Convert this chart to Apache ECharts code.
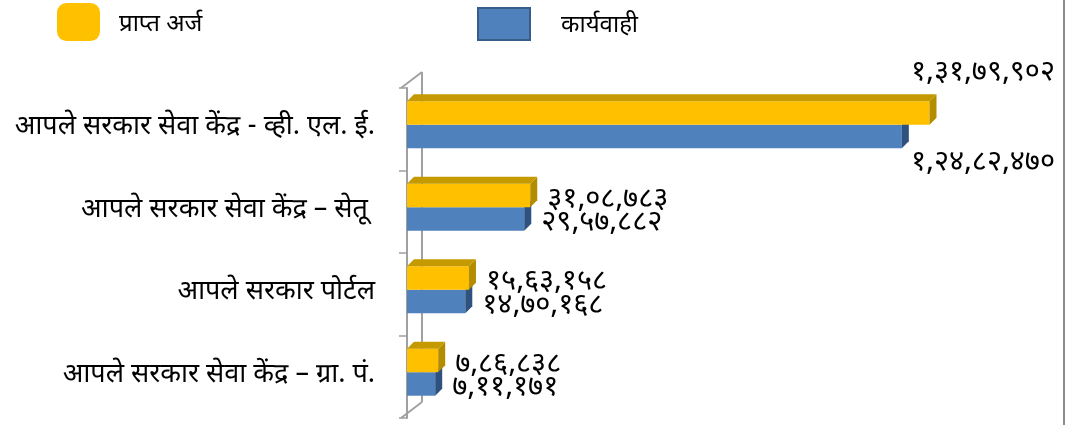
<!DOCTYPE html>
<html>
<head>
<meta charset="utf-8">
<script src="https://cdn.jsdelivr.net/npm/echarts@6/dist/echarts.min.js"></script>
<style>
  html, body { margin: 0; padding: 0; background: #fff; }
  #chart { width: 1075px; height: 425px; }
</style>
</head>
<body>
<div id="chart"></div>
<script>
const categories = [
  "आपले सरकार सेवा केंद्र - व्ही. एल. ई.",
  "आपले सरकार सेवा केंद्र – सेतू ",
  "आपले सरकार पोर्टल",
  "आपले सरकार सेवा केंद्र – ग्रा. पं.",
];
const receivedValues = [13179902, 3108783, 1563158, 786838];
const processedValues = [12482470, 2957882, 1470168, 711171];
const seriesNames = ["प्राप्त अर्ज", "कार्यवाही"];

const FONT = "'Noto Sans Devanagari', 'Lohit Devanagari', 'Noto Sans', 'DejaVu Sans', sans-serif";
const DEVA = "०१२३४५६७८९";

// indian grouping (1,31,79,902) with devanagari digits
const toDeva = (n) => {
  const s = String(n);
  let rest = s.slice(0, -3);
  let out = s.slice(-3);
  while (rest.length > 0) {
    out = rest.slice(-2) + "," + out;
    rest = rest.slice(0, -2);
  }
  return out.replace(/[0-9]/g, (d) => DEVA[+d]);
};

const DX = 7, DY = 7;
const LABEL_SIZE = 29;

const makeRender = (upper, colors) => (params, api) => {
  const cat = api.value(1);
  const val = api.value(0);
  const p0 = api.coord([0, cat]);
  const p1 = api.coord([val, cat]);
  const band = api.size([0, 1])[1];
  const h = band * 0.285;
  const mid = p0[1] - band * 0.055;
  const y0 = upper ? mid - h : mid;
  const x0 = p0[0], x1 = p1[0];
  const children = [
    { type: "rect", shape: { x: x0, y: y0, width: x1 - x0, height: h }, style: { fill: colors.front } },
    {
      type: "polygon",
      shape: { points: [[x1, y0], [x1, y0 + h], [x1 + DX, y0 + h - DY], [x1 + DX, y0 - DY]] },
      style: { fill: colors.side },
    },
  ];
  if (upper) {
    children.push({
      type: "polygon",
      shape: { points: [[x0, y0], [x1, y0], [x1 + DX, y0 - DY], [x0 + DX, y0 - DY]] },
      style: { fill: colors.top },
    });
  }
  // value label: right of the bar, or pushed above/below when it would run off the chart
  const text = toDeva(val);
  const limit = api.getWidth() - 20;
  const labelX = x1 + DX + 10;
  const estW = text.length * LABEL_SIZE * 0.5;
  const style = { text, fontSize: LABEL_SIZE, fontFamily: FONT, fill: "#000", verticalAlign: "middle" };
  if (labelX + estW > limit) {
    Object.assign(style, { x: limit, y: upper ? y0 - DY - 20 : y0 + h + 16, align: "right" });
  } else {
    Object.assign(style, { x: labelX, y: y0 + h / 2 + 6, align: "left" });
  }
  children.push({ type: "text", style });
  return { type: "group", children };
};

const chart = echarts.init(document.getElementById("chart"));
chart.setOption({
  animation: false,
  backgroundColor: "#fff",
  textStyle: { fontFamily: FONT },
  legend: [
    {
      data: [seriesNames[0]],
      left: 52, top: -2,
      itemWidth: 43, itemHeight: 38,
      icon: "roundRect",
      formatter: "{t|{name}}",
      textStyle: { rich: { t: { fontSize: 24, color: "#000", padding: [10, 0, 0, 14] } } },
    },
    {
      data: [seriesNames[1]],
      left: 472, top: 2,
      itemWidth: 52, itemHeight: 32,
      icon: "rect",
      formatter: "{t|{name}}",
      textStyle: { rich: { t: { fontSize: 24, color: "#000", padding: [8, 0, 0, 26] } } },
    },
  ],
  grid: { left: 407, right: 113, top: 88, bottom: 7 },
  xAxis: { type: "value", min: 0, max: 14000000, show: false },
  yAxis: {
    type: "category",
    data: categories,
    inverse: true,
    offset: 6,
    axisLine: { show: true, lineStyle: { color: "#A0A0A0", width: 2 } },
    axisTick: { show: true, length: 8, lineStyle: { color: "#A0A0A0", width: 1.5 } },
    axisLabel: { margin: 26, fontSize: 27, color: "#000", fontFamily: FONT, padding: [0, 0, 9, 0] },
    splitLine: { show: false },
  },
  graphic: [
    { type: "line", z: 0, shape: { x1: 422, y1: 72, x2: 422, y2: 402 }, style: { stroke: "#A0A0A0", lineWidth: 2 } },
    { type: "line", z: 0, shape: { x1: 401, y1: 88, x2: 422, y2: 72 }, style: { stroke: "#A0A0A0", lineWidth: 2 } },
    { type: "line", z: 0, shape: { x1: 401, y1: 418, x2: 422, y2: 402 }, style: { stroke: "#A0A0A0", lineWidth: 2 } },
    { type: "line", z: 0, shape: { x1: 1064, y1: 0, x2: 1064, y2: 425 }, style: { stroke: "#8C8C8C", lineWidth: 2 } },
  ],
  series: [
    {
      name: seriesNames[0],
      type: "custom",
      z: 4,
      itemStyle: { color: "#FFC000" },
      renderItem: makeRender(true, { front: "#FFC000", top: "#C49A00", side: "#B38C00" }),
      encode: { x: 0, y: 1 },
      data: receivedValues.map((v, i) => [v, i]),
    },
    {
      name: seriesNames[1],
      type: "custom",
      z: 3,
      itemStyle: { color: "#4F81BD", borderColor: "#385D8A", borderWidth: 3 },
      renderItem: makeRender(false, { front: "#4F81BD", side: "#2F5180" }),
      encode: { x: 0, y: 1 },
      data: processedValues.map((v, i) => [v, i]),
    },
  ],
});
</script>
</body>
</html>
